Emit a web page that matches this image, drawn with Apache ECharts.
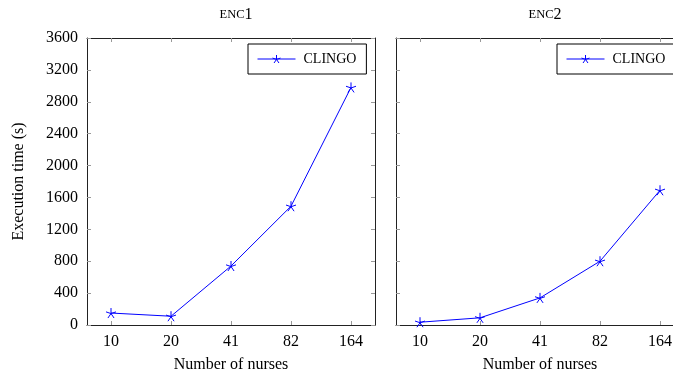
<!DOCTYPE html>
<html>
<head>
<meta charset="utf-8">
<script src="https://cdn.jsdelivr.net/npm/echarts@6/dist/echarts.min.js"></script>
<style>
html, body { margin: 0; padding: 0; background: #fff; }
#myChart { width: 673px; height: 375px; }
</style>
</head>
<body>
<div id="myChart"></div>
<script>
// number of nurses (x categories)
var nurses = ['10', '20', '41', '82', '164'];
// execution times (s) for clingo
var enc1Clingo = [150, 110, 740, 1490, 2980];
var enc2Clingo = [35, 90, 340, 800, 1690];
var yTicks = [0, 400, 800, 1200, 1600, 2000, 2400, 2800, 3200, 3600];

var font = 'Liberation Serif';
var idx = nurses.map(function (n, i) { return i; });

// 5-ray star, like pgfplots "star"
var star = 'path://M0,0L0,-1M0,0L-0.951,-0.309M0,0L-0.588,0.809M0,0L0.588,0.809M0,0L0.951,-0.309';

function pairs (vals) {
  return vals.map(function (v, i) { return [i, v]; });
}

function xAx (grid, pos, labels) {
  return {
    type: 'value', gridIndex: grid, position: pos,
    min: -0.4, max: 4.4,
    axisLine: { show: true, onZero: false, lineStyle: { color: '#222', width: 1 } },
    axisTick: { show: true, inside: true, length: 4, customValues: idx, lineStyle: { color: '#999' } },
    axisLabel: {
      show: labels, customValues: idx, margin: 9,
      fontFamily: font, fontSize: 16, color: '#000',
      formatter: function (v) { return nurses[Math.round(v)]; }
    },
    splitLine: { show: false },
    name: labels ? 'Number of nurses' : '',
    nameLocation: 'middle', nameGap: 32,
    nameTextStyle: { fontFamily: font, fontSize: 16, color: '#000' }
  };
}

function yAx (grid, pos, labels, name) {
  return {
    type: 'value', gridIndex: grid, position: pos,
    min: yTicks[0], max: yTicks[yTicks.length - 1], interval: 400,
    axisLine: { show: true, onZero: false, lineStyle: { color: '#222', width: 1 } },
    axisTick: { show: true, inside: true, length: 4, lineStyle: { color: '#999' } },
    axisLabel: {
      show: labels, margin: 9, fontFamily: font, fontSize: 16, color: '#000',
      formatter: function (v) { return String(v); }
    },
    splitLine: { show: false },
    name: name || '',
    nameLocation: 'middle', nameGap: 60,
    nameTextStyle: { fontFamily: font, fontSize: 16, color: '#000' }
  };
}

function line (xi, yi, vals) {
  return {
    name: 'CLINGO', type: 'line',
    xAxisIndex: xi, yAxisIndex: yi,
    data: pairs(vals),
    symbol: star, symbolSize: 10,
    lineStyle: { color: '#0000ff', width: 1 },
    itemStyle: { color: '#0000ff', borderColor: '#0000ff', borderWidth: 1 },
    emphasis: { disabled: true },
    animation: false
  };
}

function legendBox (left) {
  return {
    left: left, top: 44,
    data: ['CLINGO'],
    orient: 'horizontal',
    borderColor: '#000', borderWidth: 1,
    padding: [8, 10, 8, 9],
    itemWidth: 38, itemHeight: 10, itemGap: 5,
    selectedMode: false,
    lineStyle: { width: 1 },
    itemStyle: { borderWidth: 1 },
    textStyle: { fontFamily: font, fontSize: 14, color: '#000', padding: [0, 0, 0, 3] }
  };
}

function titleBox (left, num) {
  return {
    text: '{sc|ENC}{n|' + num + '}',
    left: left, top: 2, textAlign: 'center',
    textStyle: {
      rich: {
        sc: { fontFamily: font, fontSize: 12.5, fontWeight: 'normal', color: '#000' },
        n: { fontFamily: font, fontSize: 16, fontWeight: 'normal', color: '#000' }
      }
    }
  };
}

var myChart = echarts.init(document.getElementById('myChart'));
myChart.setOption({
  animation: false,
  title: [titleBox(231, 1), titleBox(540, 2)],
  legend: [legendBox(248), legendBox(557)],
  grid: [
    { left: 87, top: 38, width: 288, height: 287, outerBoundsMode: 'none', containLabel: false },
    { left: 396, top: 38, width: 288, height: 287, outerBoundsMode: 'none', containLabel: false }
  ],
  xAxis: [
    xAx(0, 'bottom', true), xAx(0, 'top', false),
    xAx(1, 'bottom', true), xAx(1, 'top', false)
  ],
  yAxis: [
    yAx(0, 'left', true, 'Execution time (s)'), yAx(0, 'right', false),
    yAx(1, 'left', false), yAx(1, 'right', false)
  ],
  series: [
    line(0, 0, enc1Clingo),
    line(2, 2, enc2Clingo)
  ]
});
</script>
</body>
</html>
